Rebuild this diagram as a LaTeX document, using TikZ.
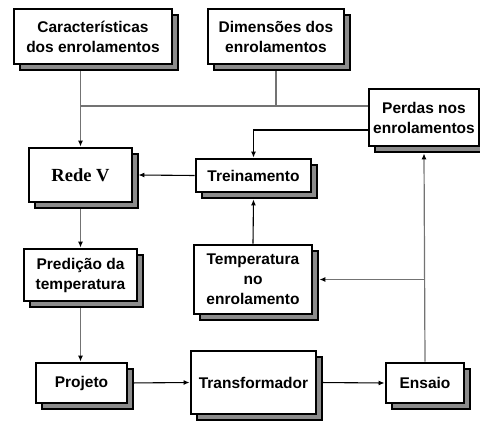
\documentclass[tikz,border=0pt]{standalone}
\usepackage{fontspec}
\setmainfont{Liberation Sans}
\newfontfamily\redefont{Liberation Serif}
\usetikzlibrary{shadows,backgrounds,arrows.meta}

\tikzset{
  bloco/.style={draw, line width=2.8pt, fill=white, align=center, inner sep=0pt,
    font=\bfseries\fontsize{15.5}{20}\selectfont,
    copy shadow={shadow xshift=6pt, shadow yshift=-6pt, fill=black!45, draw=black, line width=1.5pt}},
  cinza/.style={line width=1.2pt, draw=black!55},
  preta/.style={line width=1.1pt, draw=black},
  seta/.style={-{Latex[length=6pt,width=5pt,fill=black,color=black]}}
}

\begin{document}
\begin{tikzpicture}[x=1pt,y=-1pt]
\useasboundingbox (0,0) rectangle (480,422);
% blocos
\node[bloco,minimum width=158pt,minimum height=55pt] (carac) at (93,36.5) {Características\\dos enrolamentos};
\node[bloco,minimum width=136pt,minimum height=55pt] (dim) at (276,36.5) {Dimensões dos\\enrolamentos};
\node[bloco,minimum width=110pt,minimum height=57pt] (perdas) at (424,117.5) {Perdas nos\\enrolamentos};
\node[bloco,minimum width=103pt,minimum height=54pt,font=\redefont\bfseries\fontsize{18.5}{20}\selectfont] (rede) at (80.5,175) {Rede V};
\node[bloco,minimum width=115pt,minimum height=33pt] (trein) at (253.5,175.5) {Treinamento};
\node[bloco,minimum width=113pt,minimum height=52pt] (pred) at (80.5,275) {Predição da\\temperatura};
\node[bloco,minimum width=118pt,minimum height=69pt] (temp) at (253,279.5) {Temperatura\\no\\enrolamento};
\node[bloco,minimum width=91pt,minimum height=40pt] (proj) at (81.5,383) {Projeto};
\node[bloco,minimum width=125pt,minimum height=63pt] (trans) at (253.5,382.5) {Transformador};
\node[bloco,minimum width=78pt,minimum height=40pt] (ensaio) at (425,383) {Ensaio};

\begin{scope}[on background layer]
\coordinate (bus) at (80.5,106); % linha comum
\draw[cinza] (dim.south) -- (dim.south |- bus);
\draw[cinza] (perdas.west |- bus) -- (bus);
\draw[cinza,seta] (carac.south -| bus) -- (rede.north);
\draw[preta,seta] ([yshift=-12.5pt]perdas.west) -| (trein.north);
\draw[preta,seta] (trein.west) -- ([xshift=5pt]rede.east);
\draw[cinza,seta] (rede.south) -- (pred.north);
\draw[cinza,seta] (pred.south) -- (pred.south |- proj.north);
\foreach \a/\b in {proj/trans,trans/ensaio} % cadeia de baixo
\draw[preta,seta] (\a.east) -- (\b.west);
\draw[cinza,seta] (ensaio.north) -- ([yshift=-6pt]perdas.south);
\coordinate (ramo) at (ensaio.north |- temp.east);
\draw[cinza,seta] (ramo) -- ([xshift=6pt]temp.east);
\draw[preta,seta] (temp.north) -- ([yshift=-6pt]trein.south);
\end{scope}
\end{tikzpicture}
\end{document}
